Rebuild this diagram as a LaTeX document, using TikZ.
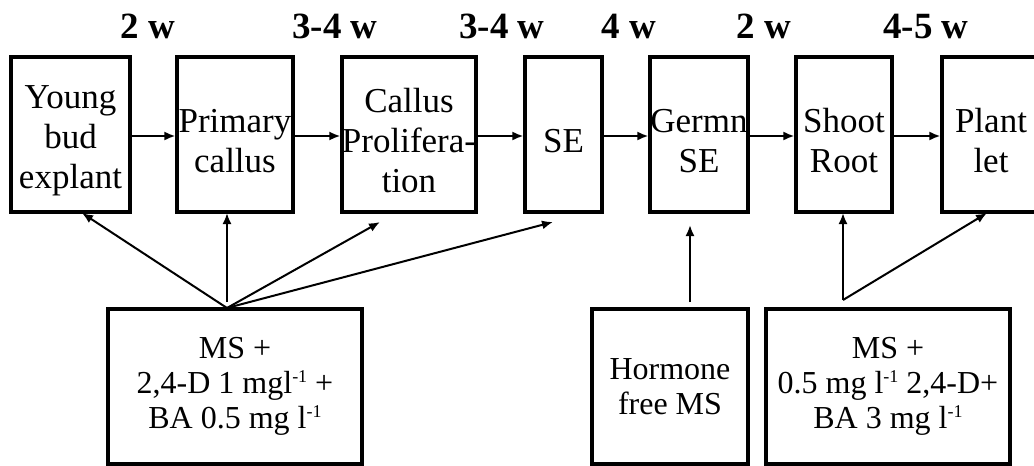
\documentclass[tikz,border=0pt]{standalone}
\usepackage{fontspec}
\setmainfont{Liberation Serif}
\usetikzlibrary{arrows.meta}
\newcommand{\supm}{\raisebox{0.75ex}{\fontsize{18}{18}\selectfont -1}}
\newcommand{\toppad}{\rule{0pt}{36pt}}
\tikzset{
  stage/.style={draw, line width=3.2pt, inner sep=0pt, align=center, minimum height=155pt,
     font=\fontsize{35}{40}\selectfont},
  medium/.style={draw, line width=3.2pt, inner sep=0pt, align=center, minimum height=155pt,
     font=\fontsize{32}{35}\selectfont},
  weeks/.style={anchor=base, font=\fontsize{37}{40}\selectfont\bfseries},
  conn/.style={line width=2pt, -{Latex[length=11pt,width=9pt]}},
}
\begin{document}
\begin{tikzpicture}[x=1pt,y=-1pt]
\useasboundingbox (0,0) rectangle (1034,466);
\clip (0,0) rectangle (1034,466);
% stage boxes
\node[stage, minimum width=119pt] (b1) at (70.5,134.5) {\toppad Young\\bud\\explant};
\node[stage, minimum width=116pt] (b2) at (235,134.5) {\toppad Primary\\callus};
\node[stage, minimum width=134pt] (b3) at (409,134.5) {\toppad Callus\\Prolifera-\\tion};
\node[stage, minimum width=77pt] (b4) at (563.5,134.5) {\toppad SE};
\node[stage, minimum width=98pt] (b5) at (699,134.5) {\toppad Germn\\SE};
\node[stage, minimum width=96pt] (b6) at (844,134.5) {\toppad Shoot\\Root};
\node[stage, minimum width=98pt] (b7) at (991,134.5) {\toppad Plant\\let};
% durations
\node[weeks] (w1) at (148,38) {2 w};
\node[weeks] (w2) at (335,38) {3-4 w};
\node[weeks] (w3) at (502,38) {3-4 w};
\node[weeks] (w4) at (629,38) {4 w};
\node[weeks] (w5) at (764,38) {2 w};
\node[weeks] (w6) at (926,38) {4-5 w};
% horizontal flow
\draw[conn] (b1.east |- 0,136) -- (b2.west |- 0,136);
\draw[conn] (b2.east |- 0,136) -- (b3.west |- 0,136);
\draw[conn] (b3.east |- 0,136) -- (b4.west |- 0,136);
\draw[conn] (b4.east |- 0,136) -- (b5.west |- 0,136);
\draw[conn] (b5.east |- 0,136) -- (b6.west |- 0,136);
\draw[conn] (b6.east |- 0,136) -- (b7.west |- 0,136);
% media boxes
\node[medium, minimum width=254pt] (mA) at (235,386.5) {MS +\\2,4-D 1 mgl\supm{} +\\BA 0.5 mg l\supm};
\node[medium, minimum width=156pt] (mB) at (670,386.5) {Hormone\\free MS};
\node[medium, minimum width=244pt] (mC) at (888,386.5) {MS +\\0.5 mg l\supm{} 2,4-D+\\BA 3 mg l\supm};
% connectors from media
\coordinate (srcA) at (227,308);
\coordinate (srcA2) at (227,302);
\coordinate (t1) at (82,213);
\coordinate (t2) at (227,213);
\coordinate (t3) at (380,222);
\coordinate (t4) at (553,222);
\draw[conn] (srcA) -- (t1);
\draw[conn] (srcA2) -- (t2);
\draw[conn] (srcA) -- (t3);
\draw[conn] (srcA) -- (t4);
\coordinate (srcB) at (690,302);
\coordinate (t5) at (690,225);
\draw[conn] (srcB) -- (t5);
\coordinate (srcC) at (843,300);
\coordinate (t6) at (843,213);
\coordinate (t7) at (987,213);
\draw[conn] (srcC) -- (t6);
\draw[conn] (srcC) -- (t7);
\end{tikzpicture}
\end{document}
